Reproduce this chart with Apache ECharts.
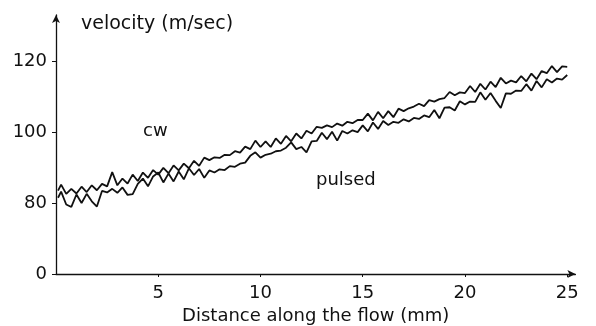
<!DOCTYPE html>
<html>
<head>
<meta charset="utf-8">
<script src="https://cdn.jsdelivr.net/npm/echarts@6/dist/echarts.min.js"></script>
<style>
html,body{margin:0;padding:0;background:#fff;}
#chart{width:596px;height:326px;}
</style>
</head>
<body>
<div id="chart"></div>
<script>
// Distance along the flow (mm)
var distance = [0.1,0.25,0.5,0.75,1,1.25,1.5,1.75,2,2.25,2.5,2.75,3,3.25,3.5,3.75,4,4.25,4.5,4.75,
5,5.25,5.5,5.75,6,6.25,6.5,6.75,7,7.25,7.5,7.75,8,8.25,8.5,8.75,9,9.25,9.5,9.75,
10,10.25,10.5,10.75,11,11.25,11.5,11.75,12,12.25,12.5,12.75,13,13.25,13.5,13.75,14,14.25,14.5,14.75,
15,15.25,15.5,15.75,16,16.25,16.5,16.75,17,17.25,17.5,17.75,18,18.25,18.5,18.75,19,19.25,19.5,19.75,
20,20.25,20.5,20.75,21,21.25,21.5,21.75,22,22.25,22.5,22.75,23,23.25,23.5,23.75,24,24.25,24.5,24.75,25];

// cw velocity (m/sec)
var cw = [83.5,85.2,82.6,84.0,82.7,84.6,83.1,85.0,83.6,85.4,84.7,88.7,85.0,86.9,85.5,88.0,86.2,88.6,87.1,89.3,
88.0,89.9,88.4,90.6,89.2,91.1,89.8,91.9,90.5,92.8,92.1,92.9,92.7,93.6,93.5,94.6,94.2,95.9,95.2,97.6,
95.8,97.4,95.8,98.2,96.7,98.9,97.4,99.6,98.2,100.4,99.6,101.5,101.2,101.9,101.4,102.4,101.8,102.9,102.5,103.4,
103.4,105.2,103.3,105.7,103.9,105.9,104.2,106.6,105.9,106.7,107.2,108.0,107.3,109.0,108.6,109.3,109.6,111.3,110.4,111.2,
111.0,113.0,111.3,113.6,112.0,114.2,112.7,115.3,113.7,114.5,114.0,115.8,114.3,116.5,114.9,117.2,116.6,118.6,116.9,118.5,118.4];

// pulsed velocity (m/sec)
var pulsed = [81.5,83.2,79.6,78.9,82.4,80.0,82.6,80.5,79.0,83.4,83.0,84.0,82.9,84.4,82.3,82.5,85.4,86.9,84.7,87.5,
88.6,85.8,88.3,86.1,88.9,86.7,89.8,87.9,89.6,87.1,89.2,88.6,89.5,89.3,90.4,90.2,91.1,91.4,93.3,94.3,
92.8,93.6,93.9,94.6,94.8,95.6,97.1,95.2,95.8,94.3,97.4,97.5,99.8,98.0,100.1,97.6,100.3,99.6,100.5,100.0,
101.9,100.2,102.7,100.9,103.1,102.0,102.9,102.6,103.6,103.0,104.0,103.7,104.7,104.2,106.2,103.9,106.9,107.0,106.1,108.7,
107.8,108.6,108.5,111.2,109.1,111.0,108.8,106.8,110.9,110.8,111.7,111.6,113.5,111.7,114.4,112.6,114.9,114.0,115.1,114.8,116.1];

var xTicks = [5, 10, 15, 20, 25];
var yTickLabels = {60: '0', 80: '80', 100: '100', 120: '120'};

function pairs(xs, ys) {
  var out = [];
  for (var i = 0; i < xs.length; i++) out.push([xs[i], ys[i]]);
  return out;
}

var FONT = 'DejaVu Sans';
var chart = echarts.init(document.getElementById('chart'), null, {renderer: 'canvas'});
chart.setOption({
  animation: false,
  backgroundColor: '#fff',
  textStyle: {fontFamily: FONT, color: '#111'},
  grid: {left: 56, right: 20.6, top: 15, bottom: 52, containLabel: false, outerBoundsMode: 'none'},
  xAxis: {
    type: 'value', min: 0, max: 25.4, interval: 5,
    name: 'Distance along the flow (mm)',
    nameLocation: 'middle', nameGap: 32,
    nameTextStyle: {fontFamily: FONT, fontSize: 18, color: '#111'},
    axisLine: {lineStyle: {color: '#111', width: 1.3}, symbol: ['none', 'arrow'], symbolSize: [6, 8]},
    axisTick: {show: true, length: 3, lineStyle: {color: '#111'}, customValues: xTicks},
    axisLabel: {fontFamily: FONT, fontSize: 18, color: '#111', margin: 10, customValues: xTicks},
    splitLine: {show: false}
  },
  yAxis: {
    type: 'value', min: 60, max: 133, interval: 20,
    axisLine: {show: true, lineStyle: {color: '#111', width: 1.3}, symbol: ['none', 'arrow'], symbolSize: [6, 8]},
    axisTick: {show: true, length: 4, lineStyle: {color: '#111'}},
    axisLabel: {fontFamily: FONT, fontSize: 18, color: '#111', margin: 9, showMaxLabel: false,
      formatter: function (v) { return yTickLabels[v] !== undefined ? yTickLabels[v] : ''; }},
    splitLine: {show: false}
  },
  title: {
    text: 'velocity (m/sec)', left: 76, top: 10,
    textStyle: {fontFamily: FONT, fontSize: 19, fontWeight: 'normal', color: '#111'}
  },
  graphic: [
    {type: 'text', left: 143, top: 122, style: {text: 'cw', font: '18px "DejaVu Sans"', fill: '#111'}},
    {type: 'text', left: 316, top: 171, style: {text: 'pulsed', font: '18px "DejaVu Sans"', fill: '#111'}}
  ],
  series: [
    {name: 'cw', type: 'line', data: pairs(distance, cw), showSymbol: false, symbol: 'none',
      lineStyle: {color: '#111', width: 1.8}},
    {name: 'pulsed', type: 'line', data: pairs(distance, pulsed), showSymbol: false, symbol: 'none',
      lineStyle: {color: '#111', width: 1.8}}
  ]
});
</script>
</body>
</html>
